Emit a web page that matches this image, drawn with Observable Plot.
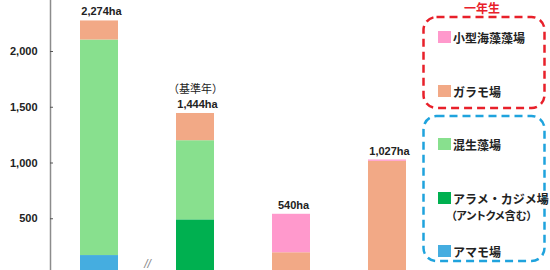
<!DOCTYPE html>
<html><head><meta charset="utf-8">
<script src="https://cdn.jsdelivr.net/npm/d3@7"></script>
<script src="https://cdn.jsdelivr.net/npm/@observablehq/plot@0.6"></script>
<style>
html,body{margin:0;padding:0;background:#fff;}
#wrap{position:relative;width:550px;height:270px;overflow:hidden;}
#wrap svg{position:absolute;left:0;top:0;}
</style></head><body>
<div id="wrap"></div>
<script>
const categories = ["時期1", "基準年", "時期3", "時期4"];
const seriesNames = ["アマモ場", "アラメ・カジメ場", "混生藻場", "ガラモ場", "小型海藻藻場"];
const seriesColors = ["#45ade0", "#00b050", "#88e08e", "#f2a986", "#ff99cc"];
const amamo = [170, 0, 0, 0];
const arame = [0, 490, 0, 0];
const konsei = [1933, 710, 0, 0];
const garamo = [171, 244, 195, 1015];
const kogata = [0, 0, 345, 12];
const totalLabels = ["2,274ha", "1,444ha", "540ha", "1,027ha"];
const yTicks = [500, 1000, 1500, 2000];

const seriesValues = [amamo, arame, konsei, garamo, kogata];
const table = [];
seriesNames.forEach((s, i) => categories.forEach((c, j) => table.push({cat: c, series: s, value: seriesValues[i][j]})));
const totals = categories.map((c, j) => ({cat: c, total: seriesValues.reduce((a, v) => a + v[j], 0), label: totalLabels[j]}));

const font = "'Liberation Sans', Arial, sans-serif";
const jp = "'Noto Sans CJK JP', sans-serif";

const chart = Plot.plot({
  width: 550, height: 270,
  marginLeft: 50, marginRight: 0, marginTop: 0, marginBottom: 0,
  style: {fontFamily: font, background: "transparent"},
  x: {domain: categories, range: [78.75, 408.25], paddingInner: 0.603, paddingOuter: 0, axis: null},
  y: {domain: [0, 2500], range: [274, -4.75], axis: null},
  color: {domain: seriesNames, range: seriesColors},
  marks: [
    Plot.barY(table, {x: "cat", y: "value", fill: "series"}),
    Plot.frame({anchor: "left", stroke: "#8c8c8c", strokeWidth: 1.5}),
    Plot.ruleY(yTicks, {stroke: "#555", strokeWidth: 1, insetRight: 497}),
    Plot.axisY({ticks: yTicks, tickFormat: d3.format(","), tickSize: 0, tickPadding: 13, fontSize: 11, fontWeight: "bold", fill: "#222"}),
    Plot.text(totals, {x: "cat", y: "total", text: "label", dy: -9, dx: 2, lineAnchor: "middle", fontSize: 11, fontWeight: "bold", fill: "#222"}),
    Plot.text([totals[1]], {x: "cat", y: "total", text: () => "（基準年）", dy: -24, lineAnchor: "middle", fontSize: 11, fontFamily: jp, fill: "#222"}),
    Plot.text([{cat: categories[1], v: 90}], {x: "cat", y: "v", text: () => "//", dx: -48, lineAnchor: "middle", fontSize: 12, fontStyle: "italic", fill: "#888"})
  ]
});
document.getElementById("wrap").appendChild(chart);

// legend overlay
const lg = d3.select("#wrap").append("svg").attr("width", 550).attr("height", 270);
lg.append("rect").attr("x", 423.5).attr("y", 17).attr("width", 121).attr("height", 91).attr("rx", 13)
  .attr("fill", "none").attr("stroke", "#e8202a").attr("stroke-width", 2.5).attr("stroke-dasharray", "8 5");
lg.append("rect").attr("x", 423.5).attr("y", 116).attr("width", 121).attr("height", 145).attr("rx", 13)
  .attr("fill", "none").attr("stroke", "#1fa3dd").attr("stroke-width", 2.5).attr("stroke-dasharray", "8 5");
lg.append("text").attr("x", 482).attr("y", 7).attr("text-anchor", "middle").attr("dominant-baseline", "central")
  .attr("font-family", jp).attr("font-weight", "bold").attr("font-size", 12).attr("fill", "#e8202a").text("一年生");
const items = [
  {s: 4, y: 37, t: "小型海藻藻場"},
  {s: 3, y: 91, t: "ガラモ場"},
  {s: 2, y: 144, t: "混生藻場"},
  {s: 1, y: 198, t: "アラメ・カジメ場"},
  {s: 0, y: 251, t: "アマモ場"}
];
items.forEach(it => {
  lg.append("rect").attr("x", 438).attr("y", it.y - 6).attr("width", 13).attr("height", 12).attr("fill", seriesColors[it.s]);
  lg.append("text").attr("x", 453).attr("y", it.y).attr("dominant-baseline", "central")
    .attr("font-family", jp).attr("font-weight", "bold").attr("font-size", 12).attr("fill", "#222").text(it.t);
});
lg.append("text").attr("x", 451).attr("y", 215).attr("dominant-baseline", "central")
  .attr("font-family", jp).attr("font-weight", "bold").attr("font-size", 11).attr("fill", "#222")
  .style("font-feature-settings", "'palt'").text("（アントクメ含む）");
</script>
</body></html>
